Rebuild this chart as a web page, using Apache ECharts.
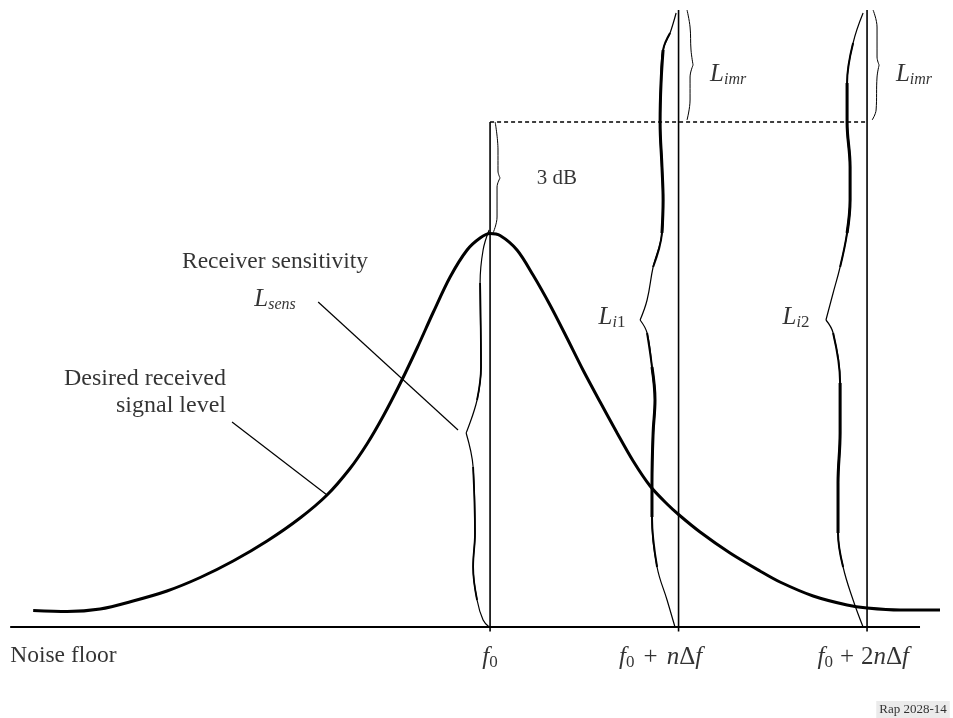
<!DOCTYPE html>
<html>
<head>
<meta charset="utf-8">
<script src="https://cdn.jsdelivr.net/npm/echarts@6/dist/echarts.min.js"></script>
<style>
html,body{margin:0;padding:0;background:#fff;}
#chart{width:953px;height:718px;}
</style>
</head>
<body>
<div id="chart"></div>
<script>
// x: frequency offset in units of nΔf (f0 = 0); y: level above the noise floor (arbitrary units)
const tickValues = [0, 1, 2];
const tickLabels = [
  '{it|f}{sub0|0}',
  '{it|f}{sub0|0}{sp|}{up|+}{sp|}{it|n}{up|Δ}{it|f}',
  '{it|f}{sub0|0}{sp2|}{up|+}{sp2|}{up|2}{it|n}{up|Δ}{it|f}'
];
const tickLabelX = [0, 0.905, 1.98];
const axisExtent = [-2.546, 2.281];

const desiredSignal = [
  [-2.424,1.65],[-2.244,1.55],[-2.069,1.8],[-1.894,2.6],[-1.714,3.6],[-1.538,4.95],[-1.363,6.6],
  [-1.183,8.6],[-1.008,10.9],[-0.865,13.2],[-0.743,15.85],[-0.653,18.3],[-0.568,21.05],[-0.477,24.35],
  [-0.387,27.9],[-0.302,31.45],[-0.212,35.0],[-0.122,37.7],[-0.053,38.9],[0.0,39.35],[0.053,39.15],
  [0.143,37.7],[0.228,35.2],[0.318,32.2],[0.408,28.9],[0.493,25.7],[0.584,22.5],[0.674,19.4],
  [0.759,16.6],[0.849,14.1],[0.939,12.3],[1.003,11.2],[1.114,9.5],[1.273,7.4],[1.432,5.6],
  [1.538,4.5],[1.714,3.1],[1.894,2.2],[2.0,1.9],[2.175,1.7],[2.387,1.7]
];

// interfering signals drawn as braces
const interferer1 = [
  [0.987,61.4],[0.955,59.4],[0.918,57.7],[0.907,54.4],[0.902,50.5],[0.912,46.0],[0.918,42.7],
  [0.912,39.4],[0.865,36.0],[0.833,32.7],[0.796,30.7],
  [0.833,29.4],[0.859,26.0],[0.875,22.7],[0.865,19.4],[0.859,14.4],[0.859,11.0],[0.886,6.0],
  [0.939,2.7],[0.981,0]
];
const interferer2 = [
  [1.979,61.4],[1.926,58.4],[1.894,54.4],[1.894,50.5],[1.910,46.0],[1.910,42.7],[1.894,39.4],
  [1.857,36.0],[1.820,33.4],[1.782,30.7],
  [1.820,29.4],[1.857,24.4],[1.857,19.4],[1.846,14.4],[1.846,9.4],[1.873,6.0],[1.926,2.7],[1.979,0]
];
const sensBrace = [
  [-0.005,39.7],[-0.037,37.7],[-0.053,34.4],[-0.048,26.0],[-0.069,22.7],[-0.127,19.4],
  [-0.090,16.0],[-0.080,9.4],[-0.090,6.0],[-0.069,2.7],[-0.037,0.7],[-0.005,0]
];
const brace3dB = [[0.027,50.5],[0.042,47.7],[0.042,45.6],[0.053,44.9],[0.037,44.0],[0.037,41.0],[0.016,39.4]];
const braceImr1 = [[1.045,61.7],[1.061,60.0],[1.066,57.7],[1.077,56.2],[1.061,55.0],[1.061,52.7],[1.045,50.7]];
const braceImr2 = [[2.032,61.7],[2.053,60.0],[2.053,57.0],[2.064,56.2],[2.053,55.0],[2.048,51.7],[2.027,50.7]];

const verticalLines = [[0, 50.5], [1, 61.7], [2, 61.7]];
const dashedLevel = [[0, 50.5], [2, 50.5]];
const leaderSens = [[-0.912,32.5],[-0.170,19.7]];
const leaderDesired = [[-1.369,20.5],[-0.865,13.2]];

const annotations = [
  { text: 'Receiver sensitivity', x: -1.141, y: 36.5, pos: 'inside', size: 23.5 },
  { text: '{it|L}{sub|sens}', x: -1.141, y: 32.8, pos: 'inside', size: 23.5 },
  { text: 'Desired received\nsignal level', x: -1.401, y: 23.5, pos: 'left', size: 24 },
  { text: '3 dB', x: 0.355, y: 44.9, pos: 'inside', size: 21 },
  { text: '{it|L}{sub|imr}', x: 1.263, y: 55.3, pos: 'inside', size: 22 },
  { text: '{it|L}{sub|imr}', x: 2.249, y: 55.3, pos: 'inside', size: 22 },
  { text: '{it|L}{sub|i}{sub0|1}', x: 0.647, y: 31.0, pos: 'inside', size: 22 },
  { text: '{it|L}{sub|i}{sub0|2}', x: 1.623, y: 31.0, pos: 'inside', size: 22 },
  { text: 'Noise floor', x: -2.546, y: -2.9, pos: 'right', size: 23.5 }
];
const figureRef = { text: 'Rap 2028-14', x: 2.244, y: -8.3 };

const FONT = '"Liberation Serif", "Times New Roman", serif';
const rich = {
  it: { fontFamily: FONT, fontStyle: 'italic', fontSize: 25, color: '#000' },
  sub: { fontFamily: FONT, fontStyle: 'italic', fontSize: 16, color: '#000', padding: [12, 0, 0, 0] },
  sub0: { fontFamily: FONT, fontSize: 17, color: '#000', padding: [12, 0, 0, 0] },
  up: { fontFamily: FONT, fontSize: 25, color: '#000' },
  sp: { width: 9 },
  sp2: { width: 7 }
};

function lineSeries(data, width, extra) {
  return Object.assign({
    type: 'line', data: data, symbol: 'none', clip: false, silent: true,
    lineStyle: { color: '#000', width: width }, animation: false
  }, extra || {});
}
function braceSeries(points, width, smooth) {
  // the brace point is the interior vertex farthest from the mean x
  const mean = points.reduce((s, p) => s + p[0], 0) / points.length;
  let tip = 1, far = -1;
  points.forEach((p, i) => {
    const d = Math.abs(p[0] - mean);
    if (i > 0 && i < points.length - 1 && d > far) { far = d; tip = i; }
  });
  return [
    lineSeries(points.slice(0, tip + 1), width, { smooth: smooth }),
    lineSeries(points.slice(tip), width, { smooth: smooth })
  ];
}

const series = [];
// noise floor axis line and ticks
series.push(lineSeries([[axisExtent[0], 0], [axisExtent[1], 0]], 2));
series.push(lineSeries(desiredSignal, 3, { smooth: 0.3 }));
verticalLines.forEach(v => series.push(lineSeries([[v[0], -0.45], [v[0], v[1]]], 1.6)));
series.push(lineSeries(dashedLevel, 1.5, { lineStyle: { color: '#000', width: 1.5, type: [4, 3] } }));
series.push(lineSeries(leaderSens, 1.2));
series.push(lineSeries(leaderDesired, 1.2));
braceSeries(interferer1, 1.2, 0.4).forEach(s => series.push(s));
braceSeries(interferer2, 1.2, 0.4).forEach(s => series.push(s));
// thicker middle parts of the interfering signal strokes (tapered)
series.push(lineSeries(interferer1.slice(1, 9), 2, { smooth: 0.4 }));
series.push(lineSeries(interferer1.slice(2, 8), 3, { smooth: 0.4 }));
series.push(lineSeries(interferer1.slice(11, 18), 2, { smooth: 0.4 }));
series.push(lineSeries(interferer1.slice(12, 17), 3, { smooth: 0.4 }));
series.push(lineSeries(interferer2.slice(1, 8), 2, { smooth: 0.4 }));
series.push(lineSeries(interferer2.slice(2, 7), 3, { smooth: 0.4 }));
series.push(lineSeries(interferer2.slice(10, 16), 2, { smooth: 0.4 }));
series.push(lineSeries(interferer2.slice(11, 15), 3, { smooth: 0.4 }));
braceSeries(sensBrace, 1.2, 0.4).forEach(s => series.push(s));
series.push(lineSeries(sensBrace.slice(2, 5), 1.8, { smooth: 0.4 }));
series.push(lineSeries(sensBrace.slice(6, 10), 1.8, { smooth: 0.4 }));
braceSeries(brace3dB, 1, 0.4).forEach(s => series.push(s));
braceSeries(braceImr1, 1, 0.4).forEach(s => series.push(s));
braceSeries(braceImr2, 1, 0.4).forEach(s => series.push(s));

const labelData = annotations.map(a => ({
  value: [a.x, a.y],
  label: {
    show: true, formatter: a.text, position: a.pos, distance: 0,
    align: a.pos === 'left' ? 'right' : (a.pos === 'right' ? 'left' : 'center'),
    fontFamily: FONT, fontSize: a.size, color: '#000', lineHeight: 27, rich: rich
  }
}));
tickValues.forEach((v, i) => labelData.push({
  value: [tickLabelX[i], -3.0],
  label: { show: true, formatter: tickLabels[i], position: 'inside', fontFamily: FONT, fontSize: 24, color: '#000', rich: rich }
}));
labelData.push({
  value: [figureRef.x, figureRef.y],
  label: { show: true, formatter: figureRef.text, position: 'inside', fontFamily: FONT, fontSize: 13, color: '#000',
           backgroundColor: '#e6e6e6', padding: [3, 3, 2, 3] }
});
series.push({
  type: 'scatter', data: labelData, symbolSize: 0.1, clip: false, silent: true, animation: false,
  itemStyle: { color: 'transparent' }
});

const chart = echarts.init(document.getElementById('chart'), null, { renderer: 'canvas' });
chart.setOption({
  backgroundColor: '#fff',
  animation: false,
  grid: { left: 0, right: 0, top: 0, bottom: 0, containLabel: false, outerBoundsMode: 'none' },
  xAxis: { type: 'value', min: -2.6, max: 2.456, show: false, splitLine: { show: false } },
  yAxis: { type: 'value', min: -9.1, max: 62.7, show: false, splitLine: { show: false } },
  series: series
});
</script>
</body>
</html>
